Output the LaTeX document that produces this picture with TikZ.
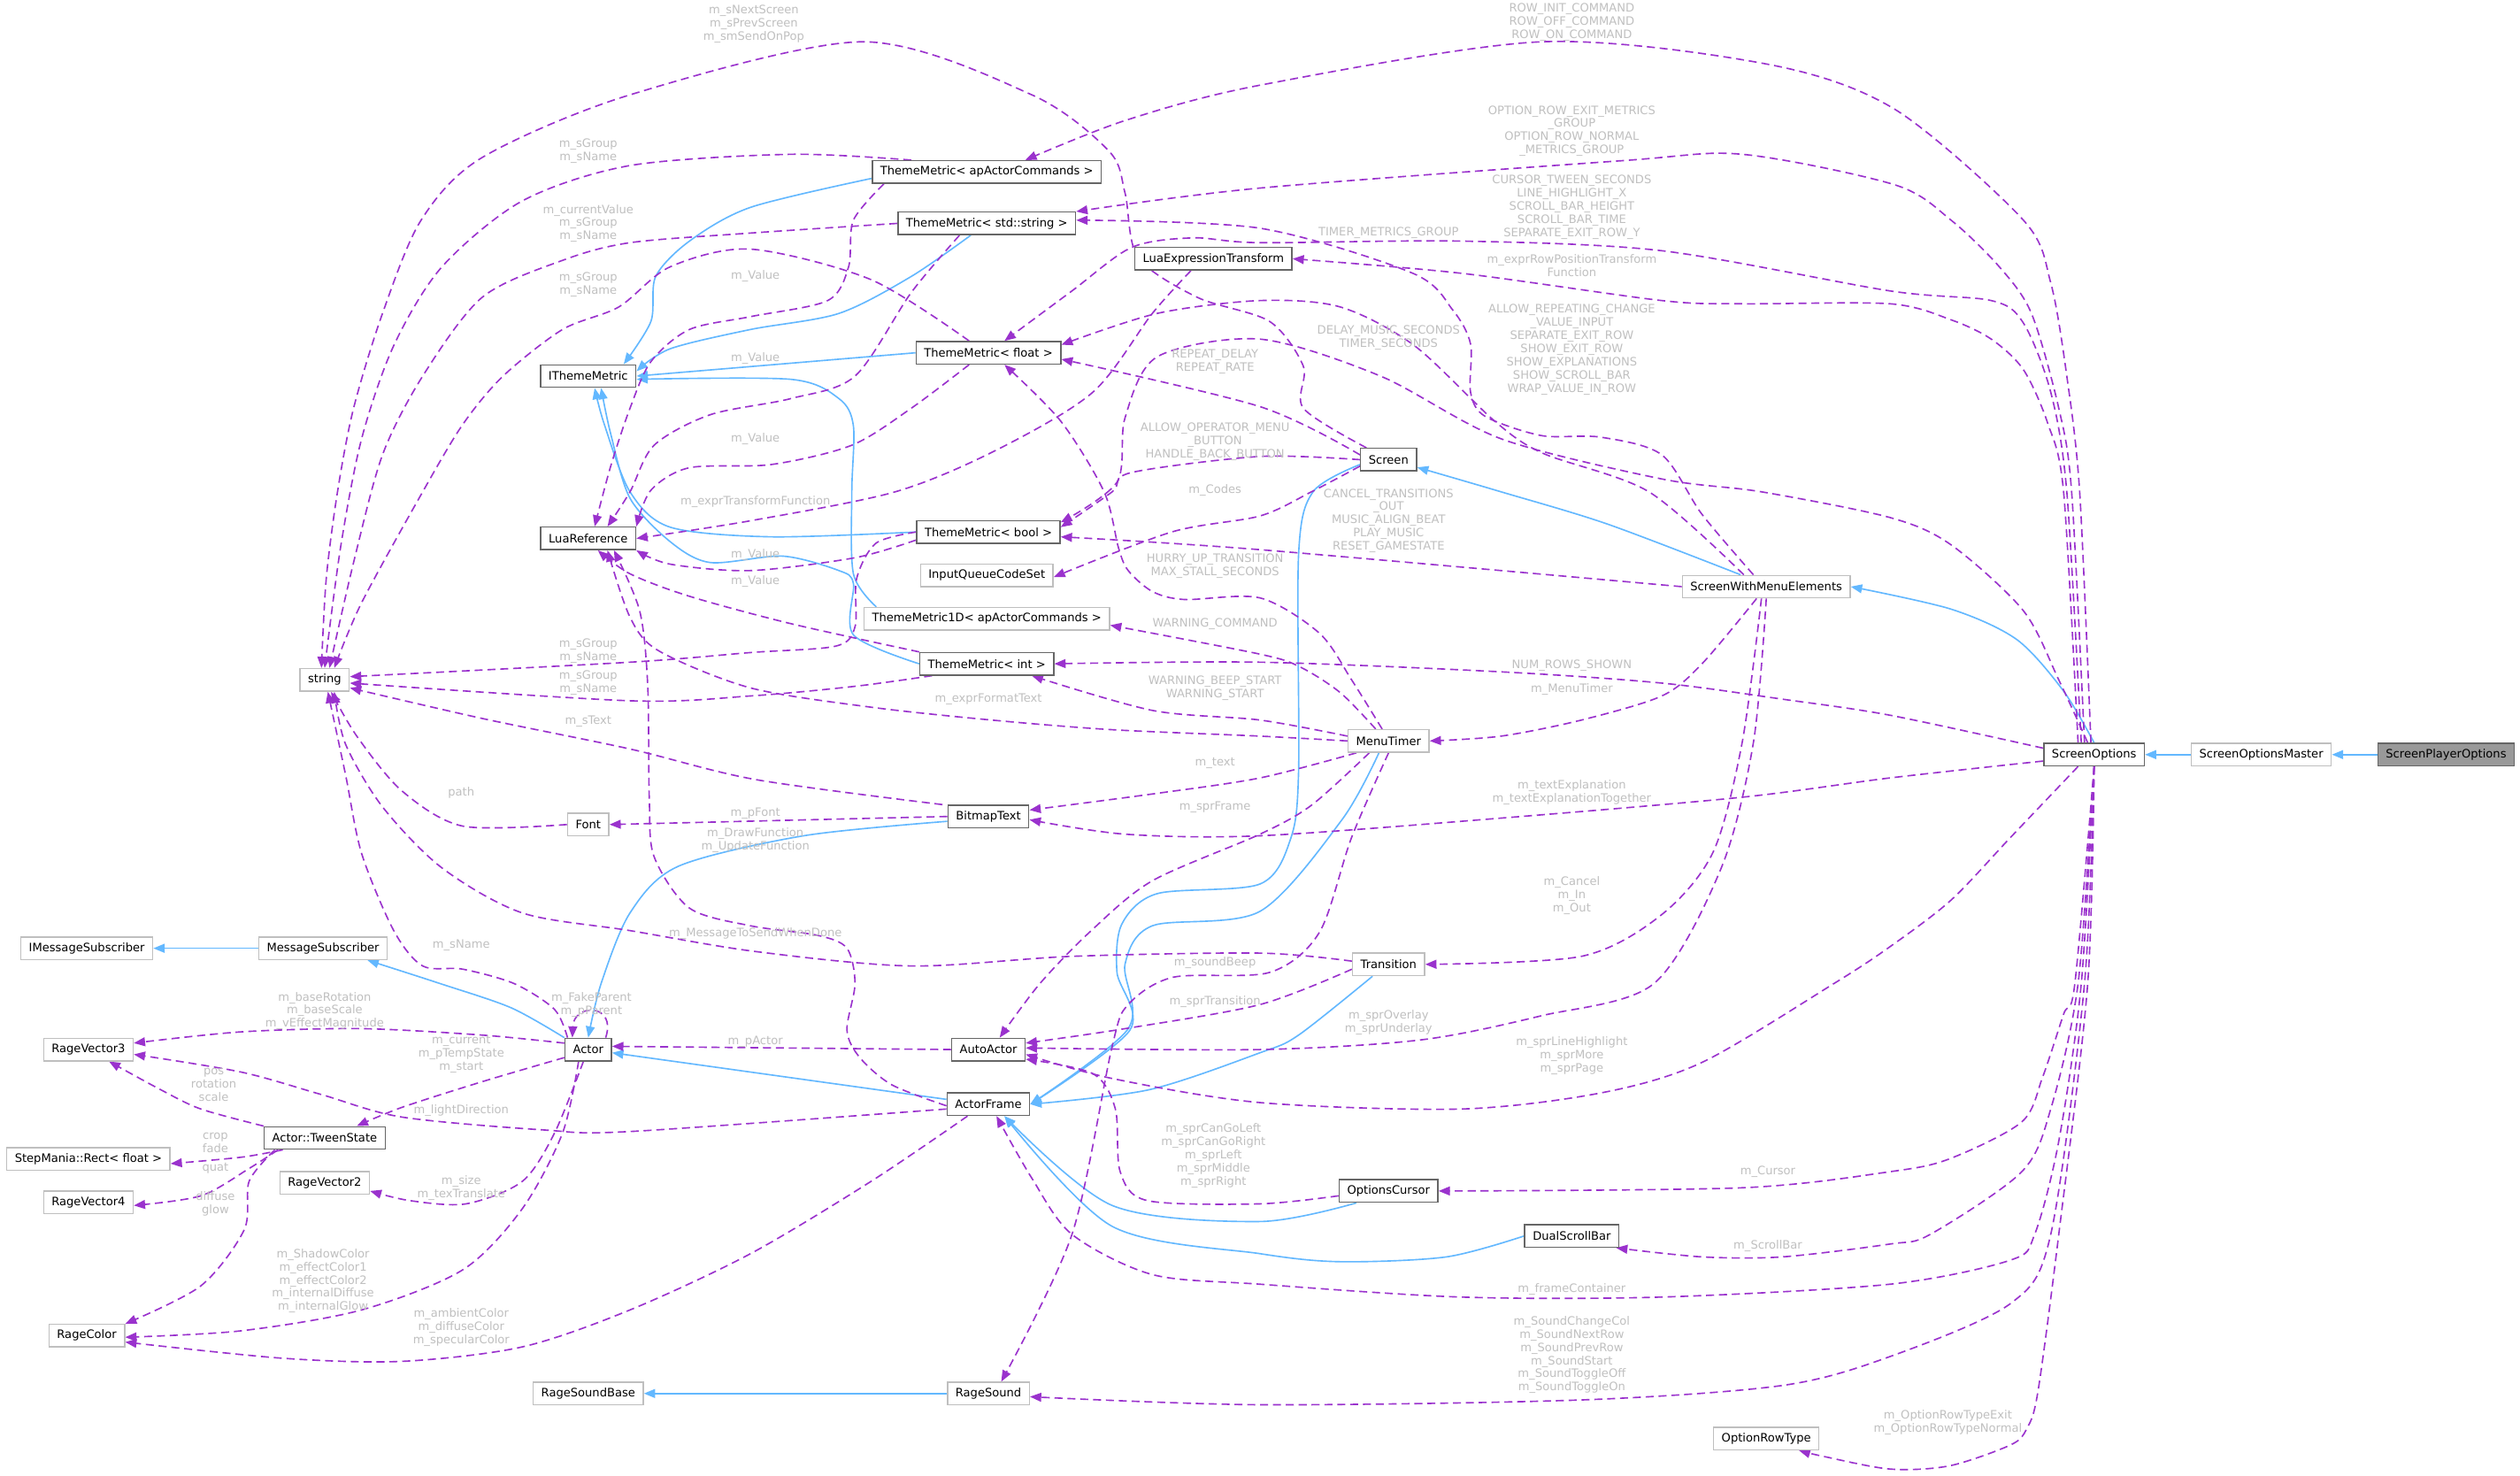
\documentclass[tikz,border=0pt]{standalone}
\usepackage{fontspec}
\setmainfont{DejaVu Sans}
\usetikzlibrary{arrows.meta}
\definecolor{inhblue}{HTML}{63B8FF}
\definecolor{usepurple}{HTML}{9A32CD}
\definecolor{lblgray}{HTML}{C0C0C0}
\definecolor{docgray}{HTML}{666666}
\definecolor{undocgray}{HTML}{BFBFBF}
\definecolor{rootfill}{HTML}{999999}
\pgfdeclarelayer{edges}
\pgfsetlayers{edges,main}
\tikzstyle{doxfont}=[font=\fontsize{7.2}{8.2}\selectfont]
\tikzstyle{docnode}=[doxfont, draw=docgray, line width=0.8pt, fill=white,
    minimum height=14pt, inner xsep=5pt, inner ysep=0pt]
\tikzstyle{plainnode}=[docnode, draw=undocgray]
\tikzstyle{rootnode}=[docnode, fill=rootfill]
\tikzstyle{lbl}=[doxfont, text=lblgray, align=center, inner sep=0pt]
\tikzstyle{inh}=[draw=inhblue, line width=0.9pt, -{Triangle[length=7pt,width=5.5pt]}]
\tikzstyle{dep}=[draw=usepurple, line width=0.9pt, dash pattern=on 5pt off 3pt,
    -{Triangle[length=7pt,width=5.5pt]}]

\begin{document}
\begin{tikzpicture}[x=1pt,y=-1pt]
    \useasboundingbox (0,0) rectangle (1568,917.8);

    % classes
    \node[rootnode] (spo) at (1522,469.5) {ScreenPlayerOptions};
    \node[plainnode] (som) at (1407,469.5) {ScreenOptionsMaster};
    \node[docnode] (so) at (1303,469.5) {ScreenOptions};
    \node[plainnode] (swme) at (1099,365) {ScreenWithMenuElements};
    \node[docnode] (scr) at (864,286) {Screen};
    \node[docnode] (tmac) at (614,107) {ThemeMetric< apActorCommands >};
    \node[docnode] (tmstr) at (614,139) {ThemeMetric< std::string >};
    \node[docnode] (let) at (755,161) {LuaExpressionTransform};
    \node[docnode] (tmf) at (615,219.5) {ThemeMetric< float >};
    \node[docnode] (itm) at (366,234) {IThemeMetric};
    \node[docnode] (lua) at (366,335) {LuaReference};
    \node[docnode] (tmbool) at (615,331) {ThemeMetric< bool >};
    \node[plainnode] (iqcs) at (614,358) {InputQueueCodeSet};
    \node[plainnode] (tm1d) at (614,385) {ThemeMetric1D< apActorCommands >};
    \node[docnode] (tmint) at (614,413) {ThemeMetric< int >};
    \node[plainnode] (str) at (202,423) {string};
    \node[plainnode] (mtimer) at (864,461) {MenuTimer};
    \node[plainnode] (fnt) at (366,513) {Font};
    \node[docnode] (btext) at (615,508) {BitmapText};
    \node[plainnode] (imsub) at (54,590) {IMessageSubscriber};
    \node[plainnode] (msub) at (201,590) {MessageSubscriber};
    \node[plainnode] (trans) at (864,600) {Transition};
    \node[docnode] (actor) at (366,653) {Actor};
    \node[docnode] (aactor) at (615,653) {AutoActor};
    \node[plainnode] (rv3) at (55,653) {RageVector3};
    \node[docnode] (tween) at (202,708) {Actor::TweenState};
    \node[docnode] (aframe) at (615,687) {ActorFrame};
    \node[plainnode] (srect) at (55,721) {StepMania::Rect< float >};
    \node[plainnode] (rv2) at (202,736) {RageVector2};
    \node[plainnode] (rv4) at (55,748) {RageVector4};
    \node[docnode] (ocursor) at (864,741) {OptionsCursor};
    \node[docnode] (dsb) at (978,769) {DualScrollBar};
    \node[plainnode] (rcolor) at (54,831) {RageColor};
    \node[plainnode] (rsbase) at (366,867) {RageSoundBase};
    \node[plainnode] (rsound) at (615,867) {RageSound};
    \node[plainnode] (ort) at (1099,895) {OptionRowType};

    % member labels
    \node[lbl] (lNext) at (469,15) {m\_sNextScreen\\m\_sPrevScreen\\m\_smSendOnPop};
    \node[lbl] (lRowCmd) at (978,14) {ROW\_INIT\_COMMAND\\ROW\_OFF\_COMMAND\\ROW\_ON\_COMMAND};
    \node[lbl] (lRowGrp) at (978,81.5) {OPTION\_ROW\_EXIT\_METRICS\\\_GROUP\\OPTION\_ROW\_NORMAL\\\_METRICS\_GROUP};
    \node[lbl] (lAcGrp) at (366,94) {m\_sGroup\\m\_sName};
    \node[lbl] (lTween) at (978,129) {CURSOR\_TWEEN\_SECONDS\\LINE\_HIGHLIGHT\_X\\SCROLL\_BAR\_HEIGHT\\SCROLL\_BAR\_TIME\\SEPARATE\_EXIT\_ROW\_Y};
    \node[lbl] (lStrGrp) at (366,139) {m\_currentValue\\m\_sGroup\\m\_sName};
    \node[lbl] (lTimerGrp) at (864,145) {TIMER\_METRICS\_GROUP};
    \node[lbl] (lRowPos) at (978,165) {m\_exprRowPositionTransform\\Function};
    \node[lbl] (lValAc) at (470,172) {m\_Value};
    \node[lbl] (lFlGrp) at (366,177) {m\_sGroup\\m\_sName};
    \node[lbl] (lAllowRep) at (978,217.5) {ALLOW\_REPEATING\_CHANGE\\\_VALUE\_INPUT\\SEPARATE\_EXIT\_ROW\\SHOW\_EXIT\_ROW\\SHOW\_EXPLANATIONS\\SHOW\_SCROLL\_BAR\\WRAP\_VALUE\_IN\_ROW};
    \node[lbl] (lDelay) at (864,210) {DELAY\_MUSIC\_SECONDS\\TIMER\_SECONDS};
    \node[lbl] (lValStr) at (470,223) {m\_Value};
    \node[lbl] (lRepeat) at (756,225) {REPEAT\_DELAY\\REPEAT\_RATE};
    \node[lbl] (lAllowOp) at (756,275) {ALLOW\_OPERATOR\_MENU\\\_BUTTON\\HANDLE\_BACK\_BUTTON};
    \node[lbl] (lValFl) at (470,273) {m\_Value};
    \node[lbl] (lCodes) at (756,305) {m\_Codes};
    \node[lbl] (lCancelTr) at (864,324) {CANCEL\_TRANSITIONS\\\_OUT\\MUSIC\_ALIGN\_BEAT\\PLAY\_MUSIC\\RESET\_GAMESTATE};
    \node[lbl] (lTransFn) at (470,312) {m\_exprTransformFunction};
    \node[lbl] (lValBool) at (470,345) {m\_Value};
    \node[lbl] (lHurry) at (756,352) {HURRY\_UP\_TRANSITION\\MAX\_STALL\_SECONDS};
    \node[lbl] (lValInt) at (470,362) {m\_Value};
    \node[lbl] (lWarnCmd) at (756,388) {WARNING\_COMMAND};
    \node[lbl] (lBoolGrp) at (366,405) {m\_sGroup\\m\_sName};
    \node[lbl] (lNumRows) at (978,414) {NUM\_ROWS\_SHOWN};
    \node[lbl] (lIntGrp) at (366,425) {m\_sGroup\\m\_sName};
    \node[lbl] (lWarnBeep) at (756,428) {WARNING\_BEEP\_START\\WARNING\_START};
    \node[lbl] (lMenuTimer) at (978,429) {m\_MenuTimer};
    \node[lbl] (lFmtText) at (615,435) {m\_exprFormatText};
    \node[lbl] (lSText) at (366,449) {m\_sText};
    \node[lbl] (lText) at (756,475) {m\_text};
    \node[lbl] (lExpl) at (978,493) {m\_textExplanation\\m\_textExplanationTogether};
    \node[lbl] (lPath) at (287,493) {path};
    \node[lbl] (lFrame) at (756,502) {m\_sprFrame};
    \node[lbl] (lPFont) at (470,506) {m\_pFont};
    \node[lbl] (lDrawFn) at (470,523) {m\_DrawFunction\\m\_UpdateFunction};
    \node[lbl] (lTransIO) at (978,557) {m\_Cancel\\m\_In\\m\_Out};
    \node[lbl] (lMsgDone) at (470,581) {m\_MessageToSendWhenDone};
    \node[lbl] (lSName) at (287,588) {m\_sName};
    \node[lbl] (lBeep) at (756,599) {m\_soundBeep};
    \node[lbl] (lParent) at (368,625) {m\_FakeParent\\m\_pParent};
    \node[lbl] (lBaseRot) at (202,629) {m\_baseRotation\\m\_baseScale\\m\_vEffectMagnitude};
    \node[lbl] (lSprTrans) at (756,623) {m\_sprTransition};
    \node[lbl] (lOverlay) at (864,636) {m\_sprOverlay\\m\_sprUnderlay};
    \node[lbl] (lPActor) at (470,648) {m\_pActor};
    \node[lbl] (lCurrent) at (287,656) {m\_current\\m\_pTempState\\m\_start};
    \node[lbl] (lLineHl) at (978,657) {m\_sprLineHighlight\\m\_sprMore\\m\_sprPage};
    \node[lbl] (lPos) at (133,675) {pos\\rotation\\scale};
    \node[lbl] (lLightDir) at (287,691) {m\_lightDirection};
    \node[lbl] (lCrop) at (134,711) {crop\\fade};
    \node[lbl] (lCanGo) at (755,719) {m\_sprCanGoLeft\\m\_sprCanGoRight\\m\_sprLeft\\m\_sprMiddle\\m\_sprRight};
    \node[lbl] (lSize) at (287,739) {m\_size\\m\_texTranslate};
    \node[lbl] (lQuat) at (134,727) {quat};
    \node[lbl] (lCursor) at (1100,729) {m\_Cursor};
    \node[lbl] (lDiffuse) at (134,749) {diffuse\\glow};
    \node[lbl] (lShadow) at (201,797) {m\_ShadowColor\\m\_effectColor1\\m\_effectColor2\\m\_internalDiffuse\\m\_internalGlow};
    \node[lbl] (lScroll) at (1100,775) {m\_ScrollBar};
    \node[lbl] (lAmbient) at (287,826) {m\_ambientColor\\m\_diffuseColor\\m\_specularColor};
    \node[lbl] (lFrameCont) at (978,802) {m\_frameContainer};
    \node[lbl] (lSound) at (978,843) {m\_SoundChangeCol\\m\_SoundNextRow\\m\_SoundPrevRow\\m\_SoundStart\\m\_SoundToggleOff\\m\_SoundToggleOn};
    \node[lbl] (lRowType) at (1212,885) {m\_OptionRowTypeExit\\m\_OptionRowTypeNormal};

    \begin{pgfonlayer}{edges}
    \fill[white] (0,0) rectangle (1568,917.8);

    % inheritance
    \draw[inh] (spo) -- (som);
    \draw[inh] (som) -- (so);
    \draw[inh] plot[smooth] coordinates {(so.north) (1284,430) (1255,398) (1214,379) (swme.east)};
    \draw[inh] plot[smooth] coordinates {([xshift=-16pt]swme.north) (1000,326) (934,306) (scr.-15)};
    \draw[inh] plot[smooth] coordinates {([yshift=-3pt]scr.west) (817,306) (808,345) (808,480) (803,522) (784,550) (720,556) (698,575) (695,605) (703,641) (aframe.east)};
    \draw[inh] plot[smooth] coordinates {([xshift=-6pt]mtimer.south) (835,510) (784,567) (717,576) (700,600) (702,640) (aframe.east)};
    \draw[inh] plot[smooth] coordinates {([xshift=-10pt]trans.south) (808,644) (784,655) (715,678) (aframe.east)};
    \draw[inh] plot[smooth] coordinates {([xshift=-20pt]ocursor.south) (784,760) (692,750) ([xshift=10pt]aframe.south)};
    \draw[inh] plot[smooth] coordinates {(dsb.west) (900,782) (834,785) (784,780) (692,763) ([xshift=10pt]aframe.south)};
    \draw[inh] plot[smooth] coordinates {([yshift=-4pt]tmac.west) (467,129) (429,150) (408,172) (405,200) ([xshift=-8pt]itm.north east)};
    \draw[inh] plot[smooth] coordinates {([xshift=-10pt]tmstr.south) (567,172) (522,195) (467,205) (417,217) ([yshift=3pt]itm.east)};
    \draw[inh] (tmf.west) -- (itm.east);
    \draw[inh] plot[smooth] coordinates {([xshift=8pt]tm1d.north west) (531,357) (530,306) (531,265) (522,248) (492,236) ([yshift=-2pt]itm.east)};
    \draw[inh] plot[smooth] coordinates {(tmbool.west) (480,334) (417,328) (392,306) (376,264) ([xshift=4pt]itm.south)};
    \draw[inh] plot[smooth] coordinates {(tmint.west) (531,395) (531,363) (522,355) (487,346) (442,350) (417,337) (392,310) (380,270) ([xshift=8pt]itm.south)};
    \draw[inh] plot[smooth] coordinates {([yshift=-3pt]btext.west) (500,520) (422,539) (392,568) (374,612) (actor.north)};
    \draw[inh] plot[smooth] coordinates {(actor.north west) (318,627) (274,612) (msub.-15)};
    \draw[inh] ([yshift=3pt]aframe.west) -- ([yshift=-2pt]actor.east);
    \draw[inh] (msub) -- (imsub);
    \draw[inh] (rsound) -- (rsbase);

    % members of ScreenOptions
    \draw[dep] plot[smooth] coordinates {([xshift=-2pt]so.north) (1294,306) (1286,234) (1276,176) (1259,137) (1179,68) (1100,40) (959,26) (784,53) (700,75) ([xshift=24pt]tmac.north)};
    \draw[dep] plot[smooth] coordinates {([xshift=-6pt]so.north) (1289,306) (1281,254) (1264,195) (1244,166) (1214,137) (1179,115) (1084,96) (1009,100) (784,117) (tmstr.north east)};
    \draw[dep] plot[smooth] coordinates {([xshift=-8pt]so.north) (1286,306) (1276,244) (1259,201) (1239,187) (1176,181) (1034,156) (909,150) (784,151) (742,148) (704,154) (667,181) ([xshift=10pt]tmf.north)};
    \draw[dep] plot[smooth] coordinates {([xshift=-10pt]so.north) (1284,306) (1274,263) (1259,230) (1239,211) (1214,199) (1176,189) (1084,189) (1034,187) (909,170) (let.east)};
    \draw[dep] plot[smooth] coordinates {([xshift=-4pt]so.north) (1281,423) (1259,380) (1214,339) (1176,322) (1096,306) (1034,298) (934,273) (859,234) (784,211) (720,222) (700,260) (695,300) ([yshift=6pt]tmbool.east)};
    \draw[dep] plot[smooth] coordinates {([yshift=4pt]so.west) (1176,445) (1109,435) (1034,425) (934,418) (784,412) (tmint.east)};
    \draw[dep] plot[smooth] coordinates {([yshift=-4pt]so.west) (1176,484) (1084,496) (934,509) (784,520) (700,519) ([yshift=-2pt]btext.east)};
    \draw[dep] plot[smooth] coordinates {([xshift=-10pt]so.south) (1251,521) (1214,560) (1176,589) (1141,612) (1059,661) (996,680) (909,690) (784,686) (692,671) ([yshift=-3pt]aactor.east)};
    \draw[dep] plot[smooth] coordinates {(so.south) (1291,612) (1284,631) (1271,670) (1258,698) (1213,721) (1176,729) (1084,739) (ocursor.east)};
    \draw[dep] plot[smooth] coordinates {(so.south) (1293,612) (1276,690) (1258,729) (1201,768) (1176,774) (1109,782) (1059,782) (dsb.-15)};
    \draw[dep] plot[smooth] coordinates {(so.south) (1295,612) (1281,710) (1266,768) (1251,784) (1176,799) (1034,807) (909,807) (784,799) (717,793) (667,768) (642,733) ([xshift=5pt]aframe.south)};
    \draw[dep] plot[smooth] coordinates {(so.south) (1297,612) (1276,768) (1251,811) (1176,844) (1109,862) (984,871) (784,874) ([yshift=-2pt]rsound.east)};
    \draw[dep] plot[smooth] coordinates {(so.south) (1299,612) (1281,768) (1268,866) (1261,889) (1251,899) (1213,912) (1176,914) (1134,906) (ort.-20)};

    % members of ScreenWithMenuElements
    \draw[dep] plot[smooth] coordinates {([xshift=-8pt]swme.north) (1059,320) (1034,283) (996,272) (959,271) (924,259) (915,244) (915,214) (904,193) (879,170) (784,142) ([yshift=2pt]tmstr.east)};
    \draw[dep] plot[smooth] coordinates {([xshift=-14pt]swme.north) (1026,306) (960,282) (930,262) (880,215) (834,191) (784,187) (720,195) ([yshift=5pt]tmf.east)};
    \draw[dep] plot[smooth] coordinates {(swme.west) (784,342) ([yshift=-3pt]tmbool.east)};
    \draw[dep] plot[smooth] coordinates {([xshift=-6pt]swme.south) (1059,413) (1034,433) (984,448) (934,458) (mtimer.east)};
    \draw[dep] plot[smooth] coordinates {([xshift=-3pt]swme.south) (1084,462) (1066,530) (1034,569) (984,595) (trans.east)};
    \draw[dep] plot[smooth] coordinates {(swme.south) (1091,462) (1071,540) (1029,612) (959,632) (884,647) (784,653) ([yshift=1pt]aactor.east)};

    % members of Screen
    \draw[dep] plot[smooth] coordinates {([xshift=4pt]scr.north west) (811,254) (811,228) (790,200) (745,185) (708,160) (700,120) (690,94) (642,59) (537,26) (392,59) (300,98) (262,137) (238,195) (220,254) (210,306) (203,360) ([xshift=-2pt]str.north)};
    \draw[dep] plot[smooth] coordinates {([yshift=3pt]scr.west) (784,253) ([yshift=-4pt]tmf.east)};
    \draw[dep] plot[smooth] coordinates {(scr.west) (784,284) (704,294) (692,306) ([yshift=3pt]tmbool.east)};
    \draw[dep] plot[smooth] coordinates {([yshift=-4pt]scr.west) (816,306) (784,321) (729,331) ([yshift=-1pt]iqcs.east)};

    % members of MenuTimer
    \draw[dep] plot[smooth] coordinates {([xshift=-4pt]mtimer.north) (841,423) (821,394) (784,372) (737,373) (717,368) (702,355) (696,341) (687,306) (660,262) ([xshift=10pt]tmf.south)};
    \draw[dep] plot[smooth] coordinates {([xshift=-8pt]mtimer.north) (834,431) (809,415) (784,407) ([yshift=-4pt]tm1d.east)};
    \draw[dep] plot[smooth] coordinates {([yshift=3pt]mtimer.west) (784,448) (717,442) ([xshift=-14pt]tmint.south east)};
    \draw[dep] plot[smooth] coordinates {(mtimer.west) (784,458) (692,454) (617,448) (542,440) (467,428) (410,405) (392,384) ([xshift=12pt]lua.south)};
    \draw[dep] plot[smooth] coordinates {([xshift=-20pt]mtimer.south) (784,484) (717,494) ([yshift=4pt]btext.east)};
    \draw[dep] plot[smooth] coordinates {([xshift=-12pt]mtimer.south) (816,501) (784,519) (717,548) (679,579) (647,612) ([xshift=7pt]aactor.north)};
    \draw[dep] plot[smooth] coordinates {(mtimer.south) (841,521) (821,580) (790,605) (730,608) (702,625) (692,651) (667,768) ([xshift=8pt]rsound.north)};

    % members of the theme metrics
    \draw[dep] plot[smooth] coordinates {([xshift=-47pt]tmac.north) (492,96) (392,103) (325,125) (275,166) (245,215) (225,273) (212,340) (str.north)};
    \draw[dep] plot[smooth] coordinates {(tmstr.west) (467,145) (392,151) (350,162) (300,185) (263,234) (238,283) (220,350) ([xshift=3pt]str.north)};
    \draw[dep] plot[smooth] coordinates {([xshift=-12pt]tmf.north) (542,174) (467,155) (417,166) (385,191) (350,205) (313,234) (288,264) (263,306) (225,375) ([xshift=6pt]str.north)};
    \draw[dep] plot[smooth] coordinates {(tmbool.west) (545,338) (533,360) (532,390) (520,402) (467,406) (392,412) ([yshift=2pt]str.east)};
    \draw[dep] plot[smooth] coordinates {([xshift=8pt]tmint.south west) (532,427) (467,433) (392,436) ([yshift=-2pt]str.east)};
    \draw[dep] plot[smooth] coordinates {([xshift=-64pt]tmac.south) (531,137) (528,166) (515,187) (467,197) (429,205) (405,225) (392,254) (380,290) ([xshift=4pt]lua.north)};
    \draw[dep] plot[smooth] coordinates {([xshift=-17pt]tmstr.south) (567,182) (532,234) (492,248) (442,258) (407,277) (392,306) ([xshift=12pt]lua.north)};
    \draw[dep] plot[smooth] coordinates {([xshift=-12pt]tmf.south) (567,254) (530,277) (480,289) (429,291) (405,305) (lua.north east)};
    \draw[dep] plot[smooth] coordinates {([xshift=-14pt]let.south) (717,195) (680,244) (620,280) (557,306) (467,324) (lua.east)};
    \draw[dep] plot[smooth] coordinates {([yshift=-5pt]tmbool.west) (532,347) (467,355) (417,351) (lua.south east)};
    \draw[dep] plot[smooth] coordinates {(tmint.north west) (492,388) (429,371) (392,357) ([xshift=6pt]lua.south)};

    % members of the actors
    \draw[dep] plot[smooth] coordinates {([xshift=-3pt]btext.north west) (470,485) (392,466) (300,447) ([yshift=-5pt]str.east)};
    \draw[dep] (btext.west) -- (fnt.east);
    \draw[dep] plot[smooth] coordinates {(fnt.west) (288,514) (250,492) (222,458) ([xshift=4pt]str.south)};
    \draw[dep] plot[smooth] coordinates {([yshift=2pt]trans.west) (784,593) (667,595) (567,601) (470,592) (392,579) (325,568) (275,540) (238,502) (215,463) ([xshift=6pt]str.south)};
    \draw[dep] plot[smooth] coordinates {([yshift=-3pt]trans.west) (784,625) (700,640) ([yshift=4pt]aactor.east)};
    \draw[dep] plot[smooth] coordinates {([yshift=-3pt]ocursor.west) (784,749) (714,747) (697,729) (694,690) (680,668) ([yshift=-6pt]aactor.east)};
    \draw[dep] (aactor.west) -- ([yshift=2pt]actor.east);
    \draw[dep] plot[smooth] coordinates {([yshift=-1pt]aframe.west) (555,675) (535,658) (527,641) (532,612) (527,590) (509,582) (467,576) (429,565) (407,533) (404,497) (403,426) (398,380) ([xshift=16pt]lua.south)};
    \draw[dep] plot[smooth] coordinates {([yshift=-3pt]aframe.west) (392,704) (338,703) (250,695) (200,681) (150,667) ([yshift=-3pt]rv3.east)};
    \draw[dep] plot[smooth] coordinates {([xshift=-13pt]aframe.south) (542,735) (467,780) (392,815) (325,838) (250,847) (175,845) ([yshift=-4pt]rcolor.east)};
    \draw[dep] plot[smooth] coordinates {([xshift=2pt]actor.north west) (345,628) (320,612) (288,603) (263,601) (245,579) (225,531) (215,482) ([xshift=2pt]str.south)};
    \draw[dep] ([xshift=-4pt]actor.north east) .. controls (384,624) and (357,624) .. ([xshift=5pt]actor.north west);
    \draw[dep] plot[smooth] coordinates {([yshift=4pt]actor.west) (300,644) (225,640) (150,642) ([yshift=4pt]rv3.east)};
    \draw[dep] plot[smooth] coordinates {([yshift=-5pt]actor.west) (300,673) (250,689) ([xshift=20pt]tween.north)};
    \draw[dep] plot[smooth] coordinates {([xshift=-3pt]actor.south) (345,705) (325,735) (290,749) (255,747) ([yshift=-5pt]rv2.east)};
    \draw[dep] plot[smooth] coordinates {([xshift=-6pt]actor.south) (350,705) (325,752) (288,790) (225,815) (150,828) ([yshift=-1pt]rcolor.east)};
    \draw[dep] plot[smooth] coordinates {(tween.north west) (125,690) (100,678) (rv3.-30)};
    \draw[dep] plot[smooth] coordinates {([xshift=12pt]tween.south west) (150,720) ([yshift=-3pt]srect.east)};
    \draw[dep] plot[smooth] coordinates {([xshift=9pt]tween.south west) (155,727) (125,744) ([yshift=-2pt]rv4.east)};
    \draw[dep] plot[smooth] coordinates {([xshift=7pt]tween.south west) (155,735) (152,765) (125,800) (rcolor.north east)};
    \end{pgfonlayer}
\end{tikzpicture}
\end{document}
